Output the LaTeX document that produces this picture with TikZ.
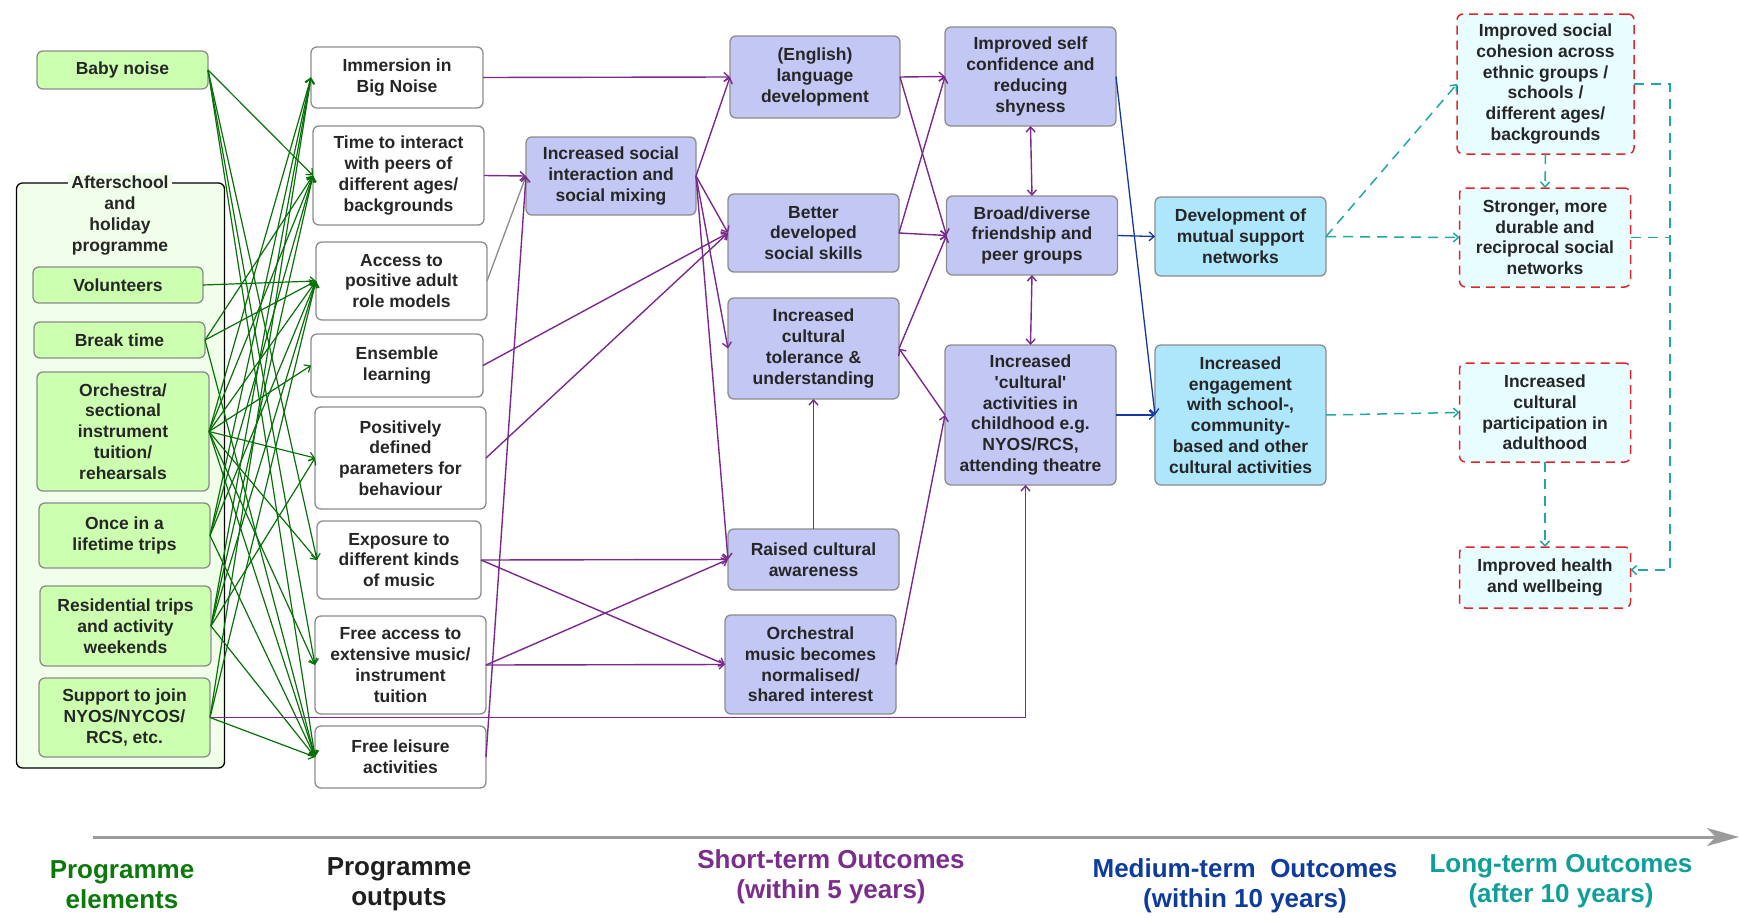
\documentclass[tikz,border=0pt]{standalone}
\usepackage{fontspec}
\setmainfont{Liberation Sans}
\usetikzlibrary{arrows.meta,calc}

\definecolor{elemfill}{HTML}{CCFFB0}
\definecolor{groupfill}{HTML}{F1FFEA}
\definecolor{boxline}{HTML}{8C8C8C}
\definecolor{shortfill}{HTML}{C3C7F4}
\definecolor{medfill}{HTML}{AEE6FB}
\definecolor{longfill}{HTML}{E8FDFF}
\definecolor{longline}{HTML}{E0262B}
\definecolor{gline}{HTML}{087008}
\definecolor{pline}{HTML}{7A2A8C}
\definecolor{bline}{HTML}{1538A0}
\definecolor{tline}{HTML}{1FA8A3}
\definecolor{txt}{HTML}{262626}
\definecolor{axisgrey}{HTML}{9B9B9B}
\definecolor{hgreen}{HTML}{0B7A0B}
\definecolor{hdark}{HTML}{1F1F1F}
\definecolor{hpurple}{HTML}{7B2D8B}
\definecolor{hblue}{HTML}{0D3B9E}
\definecolor{hteal}{HTML}{0E9F98}

\newcommand\bxfont{\fontsize{17.5}{20.8}\selectfont\bfseries}
\newcommand\hdfont{\fontsize{26}{30}\selectfont\bfseries}

\tikzset{
  sz/.style 2 args={minimum width=#1pt, minimum height=#2pt},
  base/.style={rectangle, rounded corners=6pt, draw=boxline, line width=1.3pt,
    align=center, text=txt, font=\bxfont, inner sep=2pt, outer sep=0pt},
  elem/.style={base, fill=elemfill},
  outp/.style={base, fill=white},
  shortbox/.style={base, fill=shortfill},
  medbox/.style={base, fill=medfill},
  longbox/.style={base, fill=longfill, draw=longline, line width=1.5pt,
    dash pattern=on 9pt off 6pt},
  groupbox/.style={rectangle, rounded corners=6pt, draw=black, line width=1.3pt,
    fill=groupfill, outer sep=0pt},
  grouptitle/.style={align=center, text=txt, font=\bxfont, fill=groupfill,
    inner sep=3pt},
  barb/.tip={Straight Barb[length=5pt,width=9pt]},
  garrow/.style={draw=gline, line width=1.2pt, -barb},
  parrow/.style={draw=pline, line width=1.4pt, -barb},
  pboth/.style={draw=pline, line width=1.4pt, barb-barb},
  greyarrow/.style={draw=boxline, line width=1.3pt, -barb},
  barrow/.style={draw=bline, line width=1.3pt, -barb},
  tdash/.style={draw=tline, line width=1.5pt, dash pattern=on 10pt off 7pt},
  tarrow/.style={tdash, -barb},
  axisline/.style={draw=axisgrey, line width=3pt,
    -{Stealth[length=32pt,width=18pt,inset=9pt]}},
  head/.style={font=\hdfont, align=center}
}

\begin{document}
\begin{tikzpicture}[x=1pt, y=-1pt]
\useasboundingbox (0,0) rectangle (1739,918);
\fill[white] (0,0) rectangle (1739,918);

% ---- programme elements ----
\node[groupbox, sz={208}{585}] (grp) at (120.5,475.5) {};
\node[grouptitle] (grptitle) at (120,215.5) {Afterschool\\and\\holiday\\programme};

\node[elem, sz={171}{38}]  (baby) at (122.5,70)   {Baby noise};
\node[elem, sz={170}{36}]  (vol)  at (118,285)    {Volunteers};
\node[elem, sz={171}{36}]  (brk)  at (119.5,340)  {Break time};
\node[elem, sz={172}{119}] (orch) at (123,431.5)  {Orchestra/\\sectional\\instrument\\tuition/\\rehearsals};
\node[elem, sz={171}{65}]  (once) at (124.5,535.5){Once in a\\lifetime trips};
\node[elem, sz={171}{80}]  (resi) at (125.5,626)  {Residential trips\\and activity\\weekends};
\node[elem, sz={171}{79}]  (supp) at (124.5,717.5){Support to join\\NYOS/NYCOS/\\RCS, etc.};

% ---- programme outputs ----
\node[outp, sz={172}{61}] (imm)  at (397,77.5)   {Immersion in\\Big Noise};
\node[outp, sz={171}{99}] (time) at (398.5,175.5){Time to interact\\with peers of\\different ages/\\backgrounds};
\node[outp, sz={171}{78}] (acc)  at (401.5,281)  {Access to\\positive adult\\role models};
\node[outp, sz={172}{63}] (ens)  at (397,365.5)  {Ensemble\\learning};
\node[outp, sz={171}{102}](pos)  at (400.5,458)  {Positively\\defined\\parameters for\\behaviour};
\node[outp, sz={164}{78}] (expo) at (399,560)    {Exposure to\\different kinds\\of music};
\node[outp, sz={171}{98}] (fac)  at (400.5,665)  {Free access to\\extensive music/\\instrument\\tuition};
\node[outp, sz={171}{62}] (fla)  at (400.5,757)  {Free leisure\\activities};

% ---- short-term outcomes ----
\node[shortbox, sz={170}{78}]  (soc) at (611,176)     {Increased social\\interaction and\\social mixing};
\node[shortbox, sz={170}{82}]  (eng) at (815,77)      {(English)\\language\\development};
\node[shortbox, sz={171}{78}]  (bet) at (813.5,233)   {Better\\developed\\social skills};
\node[shortbox, sz={171}{101}] (tol) at (813.5,348.5) {Increased\\cultural\\tolerance \&\\understanding};
\node[shortbox, sz={171}{61}]  (rai) at (813.5,559.5) {Raised cultural\\awareness};
\node[shortbox, sz={171}{99}]  (orm) at (810.5,664.5) {Orchestral\\music becomes\\normalised/\\shared interest};
\node[shortbox, sz={171}{99}]  (self) at (1030.5,76.5){Improved self\\confidence and\\reducing\\shyness};
\node[shortbox, sz={171}{79}]  (brd) at (1032,235.5)  {Broad/diverse\\friendship and\\peer groups};
\node[shortbox, sz={171}{140}] (cul) at (1030.5,415)  {Increased\\\textquotesingle cultural\textquotesingle\\activities in\\childhood e.g.\\NYOS/RCS,\\attending theatre};

% ---- medium-term outcomes ----
\node[medbox, sz={171}{79}]  (dev)  at (1240.5,236.5) {Development of\\mutual support\\networks};
\node[medbox, sz={171}{140}] (eng2) at (1240.5,415)   {Increased\\engagement\\with school-,\\community-\\based and other\\cultural activities};

% ---- long-term outcomes ----
\node[longbox, sz={177}{140}] (coh) at (1545.5,84)   {Improved social\\cohesion across\\ethnic groups /\\schools /\\different ages/\\backgrounds};
\node[longbox, sz={171}{99}]  (str) at (1545,237.5)  {Stronger, more\\durable and\\reciprocal social\\networks};
\node[longbox, sz={171}{99}]  (par) at (1545,412.5)  {Increased\\cultural\\participation in\\adulthood};
\node[longbox, sz={171}{61}]  (hea) at (1545,577.5)  {Improved health\\and wellbeing};

% ---- elements to outputs ----
\foreach \s/\t in {baby/time, baby/expo, baby/fac, baby/fla,
                   vol/acc,
                   brk/time, brk/acc, brk/fla,
                   orch/imm, orch/time, orch/acc, orch/ens, orch/pos,
                   orch/expo, orch/fac, orch/fla,
                   once/imm, once/time, once/acc, once/fla,
                   resi/imm, resi/time, resi/acc, resi/pos, resi/fla,
                   supp/imm, supp/acc, supp/fla}
  \draw[garrow] (\s.east) -- (\t.west);

% ---- outputs to short-term outcomes ----
\draw[greyarrow] (acc.east) -- (soc.west);
\draw[parrow] (imm.east) -- (eng.west);
\draw[parrow] (time.east) -- (soc.west);
\draw[parrow] (fla.east) -- (soc.west);
\draw[parrow] (ens.east) -- (bet.west);
\draw[parrow] (pos.east) -- (bet.west);
\draw[parrow] (expo.east) -- (rai.west);
\draw[parrow] (expo.east) -- (orm.west);
\draw[parrow] (fac.east) -- (rai.west);
\draw[parrow] (fac.east) -- (orm.west);
\draw[parrow] (supp.east) -| ([xshift=-5pt]cul.south);

\draw[parrow] (soc.east) -- (eng.west);
\draw[parrow] (soc.east) -- (bet.west);
\draw[parrow] (soc.east) -- (tol.west);
\draw[parrow] (soc.east) -- (rai.west);
\draw[parrow] (rai.north) -- (tol.south);

\draw[parrow] (eng.east) -- (self.west);
\draw[parrow] (eng.east) -- (brd.west);
\draw[parrow] (bet.east) -- (self.west);
\draw[parrow] (bet.east) -- (brd.west);
\draw[parrow] (tol.east) -- (brd.west);
\draw[parrow] (cul.west) -- (tol.east);
\draw[parrow] (orm.east) -- (cul.west);
\draw[pboth] (self.south) -- (brd.north);
\draw[pboth] (brd.south) -- (cul.north);

% ---- to medium-term outcomes ----
\draw[barrow] (self.east) -- (eng2.west);
\draw[barrow] (brd.east) -- (dev.west);
\draw[barrow] (cul.east) -- (eng2.west);

% ---- to long-term outcomes ----
\coordinate (rail) at (1670,570);
\draw[tarrow] (dev.east) -- (coh.west);
\draw[tarrow] (dev.east) -- (str.west);
\draw[tarrow] (eng2.east) -- (par.west);
\draw[tarrow] (coh.south) -- (str.north);
\draw[tarrow] (par.south) -- (hea.north);
\draw[tarrow] (coh.east) -| (rail) -- (rail -| hea.east);
\draw[tdash] (str.east) -- (str.east -| rail);

% ---- time axis and column headings ----
\coordinate (axs) at (93,837);
\coordinate (axe) at (1739,837);
\draw[axisline] (axs) -- (axe);

\node[head, text=hgreen]  (h1) at (122,885)  {Programme\\elements};
\node[head, text=hdark]   (h2) at (399,884)  {Programme\\outputs};
\node[head, text=hpurple] (h3) at (831,877)  {Short-term Outcomes\\(within 5 years)};
\node[head, text=hblue]   (h4) at (1245,886) {Medium-term~~Outcomes\\(within 10 years)};
\node[head, text=hteal]   (h5) at (1561,881) {Long-term Outcomes\\(after 10 years)};
\end{tikzpicture}
\end{document}
